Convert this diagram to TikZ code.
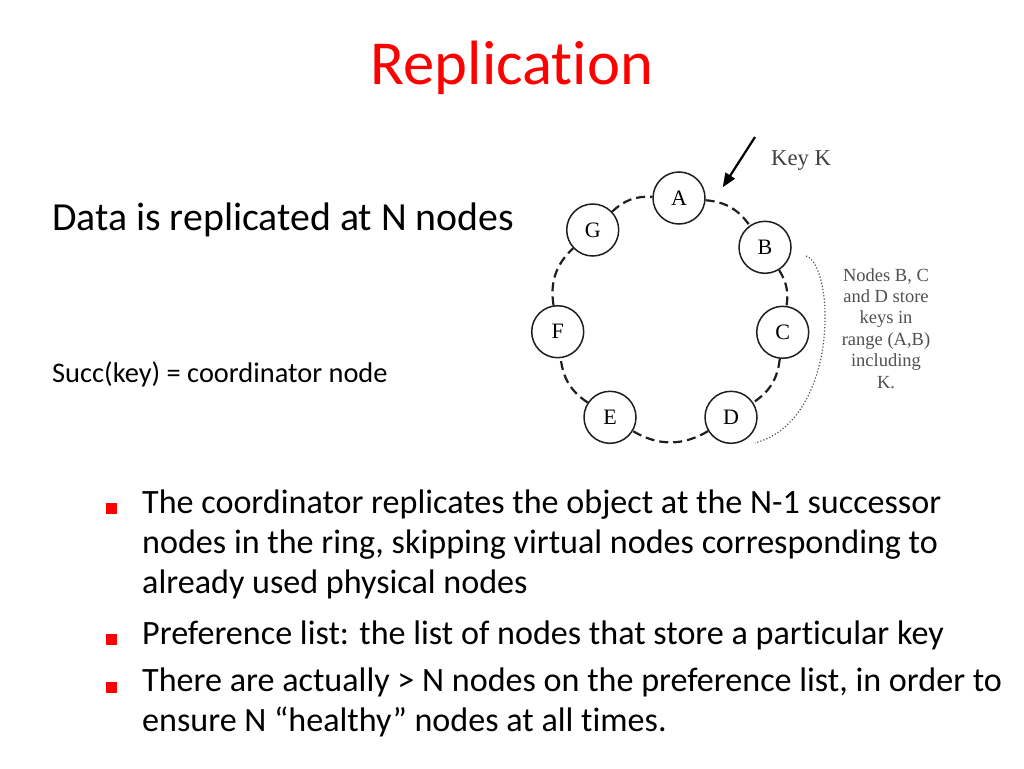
\documentclass[tikz,border=0pt]{standalone}
\usepackage{fontspec}
\setmainfont{Carlito}[Ligatures=NoCommon]
\newfontfamily\tms{Liberation Serif}
\usetikzlibrary{arrows.meta}
\definecolor{ttl}{RGB}{255,0,0}
\definecolor{ink}{RGB}{30,30,30}
\definecolor{note}{RGB}{80,80,80}
\begin{document}
\begin{tikzpicture}[x=1pt,y=-1pt,
  ringnode/.style={circle,draw=ink,line width=1.5pt,fill=white,minimum size=52pt,inner sep=0pt,font=\tms\fontsize{22}{25}\selectfont},
  ringedge/.style={draw=ink,line width=2.2pt,dash pattern=on 9pt off 5pt},
  bul/.style={rectangle,fill=ttl,minimum size=11pt,inner sep=0pt},
  bline/.style={anchor=base west,inner sep=0pt,font=\fontsize{34.1}{40}\selectfont},
]
\useasboundingbox (0,0) rectangle (1024,768);

% title
\node[anchor=base,inner sep=0pt,text=ttl,font=\fontsize{62.6}{70}\selectfont] (title) at (512,84) {Replication};

% left texts
\node[anchor=base west,inner sep=0pt,font=\fontsize{39.8}{46}\selectfont] (data) at (52,230) {Data is replicated at N nodes};
\node[anchor=base west,inner sep=0pt,font=\fontsize{28.4}{34}\selectfont] (succ) at (52,382) {Succ(key) = coordinator node};

% ring nodes
\node[ringnode] (A) at (679,198) {A};
\node[ringnode] (B) at (765,247.3) {B};
\node[ringnode] (C) at (782.7,332.3) {C};
\node[ringnode] (D) at (731,417.3) {D};
\node[ringnode] (E) at (610,417.3) {E};
\node[ringnode] (F) at (557.7,331.7) {F};
\node[ringnode] (G) at (592.7,230) {G};

\draw[ringedge] (A) to[bend left=25] (B);
\draw[ringedge] (B) to[bend left=20] (C);
\draw[ringedge] (C) to[bend left=25] (D);
\draw[ringedge] (D) to[bend left=31] (E);
\draw[ringedge] (E) to[bend left=25] (F);
\draw[ringedge] (F) to[bend left=28] (G);
\draw[ringedge] (G) to[bend left=23] (A);

% key arrow
\coordinate (kt) at (755,137);
\coordinate (kh) at (722.7,187.3);
\draw[black,line width=2.2pt,-{Triangle[length=14pt,width=11pt]}] (kt) -- (kh);
\node[anchor=base west,inner sep=0pt,text=ink!85!white,font=\tms\fontsize{22.7}{26}\selectfont] (key) at (771,165) {Key K};

% bracket and note
\coordinate (br1) at (806,256);
\coordinate (br2) at (755,443);
\draw[note,line width=1.2pt,dotted] (br1) .. controls (835,265) and (840,420) .. (br2);
\node[anchor=north,inner sep=0pt,align=center,text=note,font=\tms\fontsize{18.5}{21.4}\selectfont] (nt) at (886,268)
  {Nodes B, C\\and D store\\keys in\\range (A,B)\\including\\K.};

% bullets
\node[bul] (b1) at (111,508.5) {};
\node[bul] (b2) at (111,639.5) {};
\node[bul] (b3) at (111,687) {};
\node[bline] (l1) at (142,513.3) {The coordinator replicates the object at the N-1 successor};
\node[bline] (l2) at (142,553.3) {nodes in the ring, skipping virtual nodes corresponding to};
\node[bline] (l3) at (142,593.3) {already used physical nodes};
\node[bline] (l4) at (142,644) {Preference list: the list of nodes that store a particular key};
\node[bline] (l5) at (142,691.5) {There are actually > N nodes on the preference list, in order to};
\node[bline] (l6) at (142,731.5) {ensure N “healthy” nodes at all times.};
\end{tikzpicture}
\end{document}
